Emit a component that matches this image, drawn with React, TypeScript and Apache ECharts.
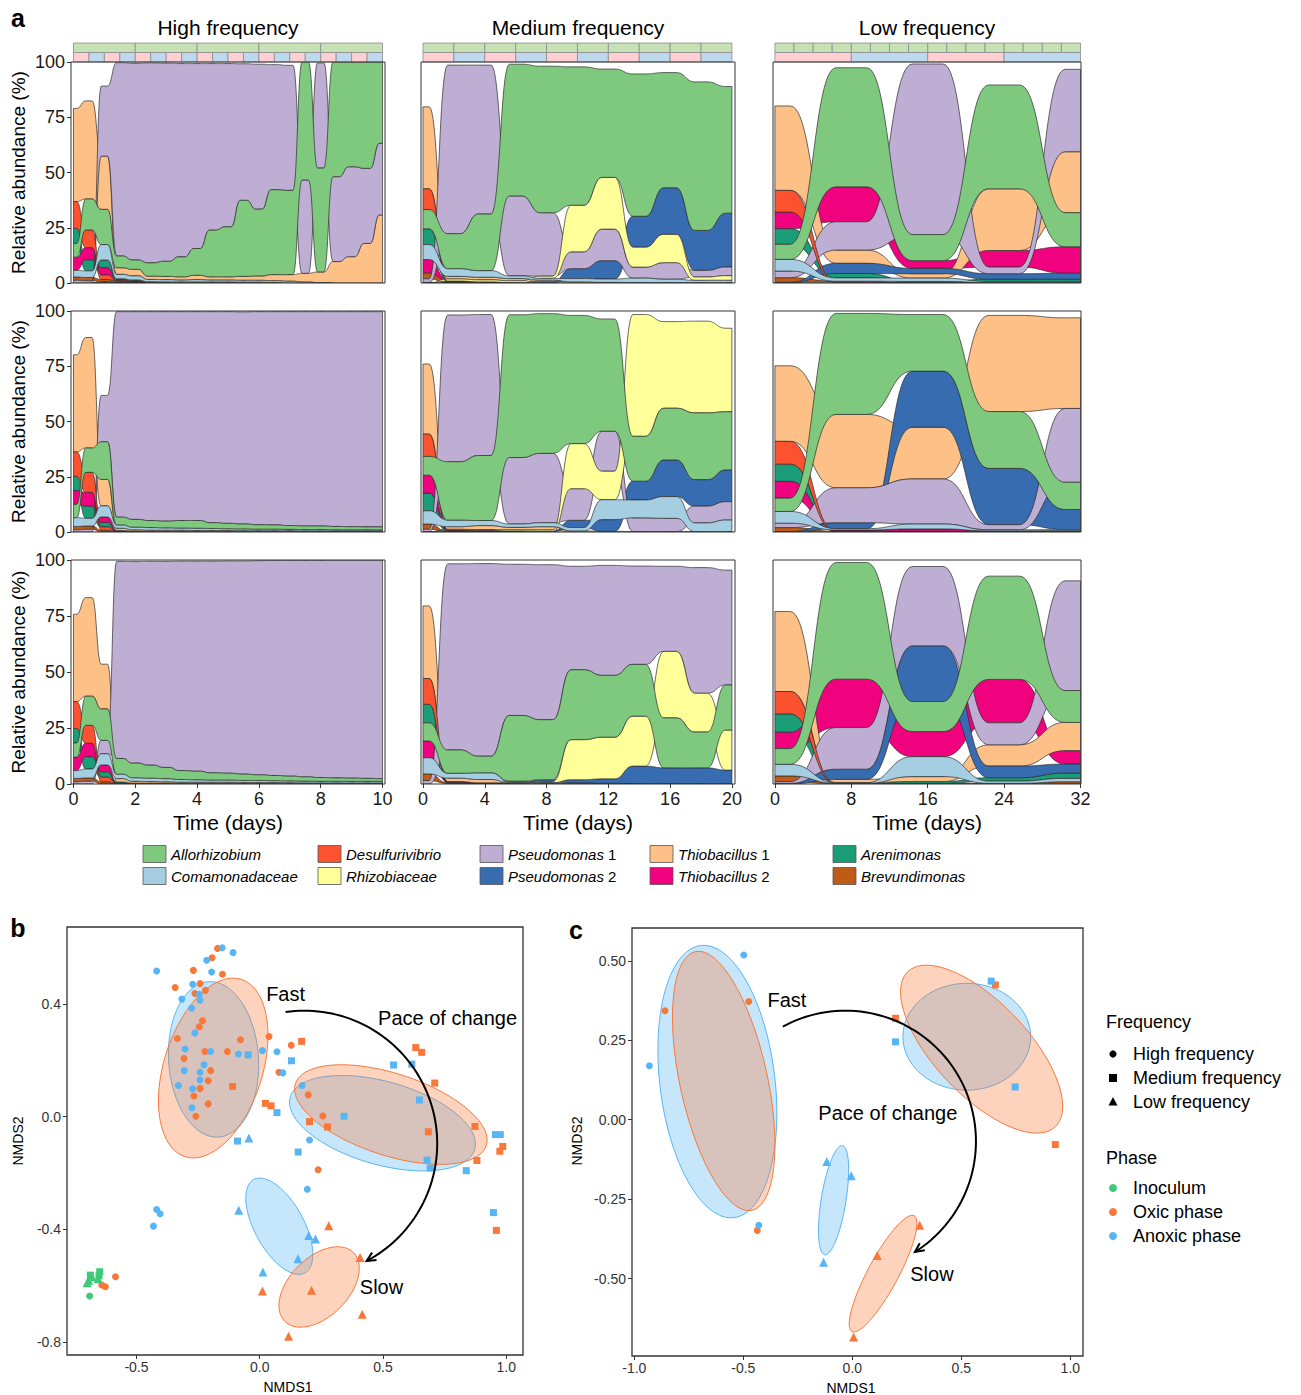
import React, { useEffect, useRef } from "react";
import * as echarts from "echarts";

const FONT = "'Liberation Sans', Arial, Helvetica, sans-serif";

// ---------------- Panel a: taxa ----------------
const TAXA = ["Allorhizobium", "Comamonadaceae", "Desulfurivibrio", "Rhizobiaceae", "Pseudomonas 1", "Pseudomonas 2", "Thiobacillus 1", "Thiobacillus 2", "Arenimonas", "Brevundimonas"];
const TAXA_COLORS = ["#7fc97f", "#a6cee3", "#fd5230", "#ffff99", "#beaed4", "#386cb0", "#fdc086", "#f0027f", "#1b9e77", "#bf5b17"];
const COLUMN_TITLES = ["High frequency", "Medium frequency", "Low frequency"];

const HF_TIMES = [0, 0.5, 1, 1.5, 2, 2.5, 3, 3.5, 4, 4.5, 5, 5.5, 6, 6.5, 7, 7.5, 8, 8.5, 9, 9.5, 10];
const MF_TIMES = [0, 2, 4, 6, 8, 10, 12, 14, 16, 18, 20];
const LF_TIMES = [0, 8, 16, 24, 32];
const HF_TICKS = [0, 2, 4, 6, 8, 10];
const MF_TICKS = [0, 4, 8, 12, 16, 20];
const LF_TICKS = [0, 8, 16, 24, 32];

// phase strips (day boundaries)
const HF_TOP_EDGES = [0, 2, 4, 6, 8, 10];
const HF_PHASE_EDGES = [0, 0.5, 1, 1.5, 2, 2.5, 3, 3.5, 4, 4.5, 5, 5.5, 6, 6.5, 7, 7.5, 8, 8.5, 9, 9.5, 10];
const MF_TOP_EDGES = [0, 2, 4, 6, 8, 10, 12, 14, 16, 18, 20];
const MF_PHASE_EDGES = [0, 2, 4, 6, 8, 10, 12, 14, 16, 18, 20];
const LF_TOP_EDGES = [0, 2, 4, 6, 8, 10, 12, 14, 16, 18, 20, 22, 24, 26, 28, 30, 32];
const LF_PHASE_EDGES = [0, 8, 16, 24, 32];

// relative abundances (%), rows in TAXA order
const HF_R1 = [
  [6.2, 14.0, 15.9, 5.3, 4.2, 6.0, 6.8, 9.0, 12.1, 21.1, 22.6, 34.4, 30.2, 38.4, 38.1, 53.4, 47.0, 51.9, 47.4, 48.1, 36.8],
  [3.0, 3.0, 7.0, 2.0, 1.8, 1.0, 1.0, 0.8, 1.0, 0.8, 0.8, 0.8, 0.8, 0.8, 0.8, 0.4, 0.2, 0, 0, 0, 0],
  [12.1, 8.0, 2.0, 0.3, 0.2, 0.1, 0, 0, 0, 0, 0, 0, 0, 0, 0, 0, 0, 0, 0, 0, 0],
  [0, 0, 0.3, 0.3, 0.3, 0.3, 0.3, 0.3, 0.3, 0.3, 0.3, 0.3, 0.3, 0.2, 0, 0, 0, 0, 0, 0, 0],
  [1.2, 1.0, 31.7, 87.5, 89.0, 90.5, 89.7, 87.5, 83.7, 75.4, 73.9, 61.8, 65.6, 56.6, 56.6, 42.2, 47.6, 38.4, 40.7, 34.0, 32.4],
  [0, 0, 0.3, 0.2, 0.2, 0, 0, 0, 0, 0, 0, 0, 0, 0, 0, 0, 0, 0, 0, 0, 0],
  [42.2, 44.4, 24.1, 3.0, 3.0, 1.5, 1.5, 1.5, 2.0, 1.5, 1.5, 1.8, 2.0, 2.8, 3.0, 4.0, 4.8, 9.7, 11.9, 17.9, 30.8],
  [6.0, 5.5, 3.3, 0.3, 0.2, 0, 0, 0, 0, 0, 0, 0, 0, 0, 0, 0, 0, 0, 0, 0, 0],
  [6.8, 5.0, 3.5, 0.5, 0.3, 0.2, 0.2, 0.2, 0.2, 0.2, 0.2, 0.1, 0.1, 0, 0, 0, 0, 0, 0, 0, 0],
  [1.5, 1.5, 1.0, 0.3, 0.2, 0, 0, 0, 0, 0, 0, 0, 0, 0, 0, 0, 0, 0, 0, 0, 0],
];
const HF_R2 = [
  [6.0, 11.0, 17.0, 3.5, 3.5, 3.2, 3.0, 3.4, 3.5, 2.6, 2.4, 2.2, 2.0, 1.9, 1.7, 1.6, 1.6, 1.5, 1.4, 1.3, 1.3],
  [4.0, 3.5, 5.0, 1.5, 1.2, 1.2, 1.1, 1.0, 1.0, 0.9, 0.8, 0.8, 0.7, 0.7, 0.6, 0.6, 0.6, 0.5, 0.5, 0.5, 0.5],
  [11.0, 9.0, 1.5, 0, 0, 0, 0, 0, 0, 0, 0, 0, 0, 0, 0, 0, 0, 0, 0, 0, 0],
  [0, 0, 0, 0, 0, 0, 0, 0, 0, 0, 0, 0, 0, 0, 0, 0, 0, 0, 0, 0, 0],
  [1.0, 1.2, 21.0, 93.0, 94.0, 94.5, 94.8, 94.5, 94.5, 95.5, 95.8, 96.0, 96.4, 96.5, 96.8, 97.0, 97.0, 97.2, 97.3, 97.4, 97.4],
  [0, 0, 0, 0, 0, 0, 0, 0, 0, 0, 0, 0, 0, 0, 0, 0, 0, 0, 0, 0, 0],
  [44.0, 50.0, 12.0, 1.0, 0.6, 0.5, 0.5, 0.5, 0.4, 0.4, 0.4, 0.4, 0.4, 0.4, 0.4, 0.3, 0.3, 0.3, 0.3, 0.3, 0.3],
  [6.2, 6.3, 2.5, 0.2, 0, 0, 0, 0, 0, 0, 0, 0, 0, 0, 0, 0, 0, 0, 0, 0, 0],
  [6.5, 5.5, 2.0, 0.5, 0.4, 0.3, 0.3, 0.3, 0.3, 0.3, 0.3, 0.2, 0.2, 0.2, 0.2, 0.2, 0.2, 0.2, 0.2, 0.2, 0.2],
  [1.5, 1.5, 0.8, 0, 0, 0, 0, 0, 0, 0, 0, 0, 0, 0, 0, 0, 0, 0, 0, 0, 0],
];
const HF_R3 = [
  [6.3, 13.0, 14.0, 7.0, 6.5, 5.8, 5.0, 4.0, 3.8, 3.2, 3.0, 2.8, 2.5, 2.3, 2.1, 1.9, 1.7, 1.5, 1.4, 1.3, 1.2],
  [3.5, 4.0, 5.0, 2.0, 1.6, 1.5, 1.4, 1.2, 1.1, 1.0, 1.0, 0.9, 0.9, 0.8, 0.8, 0.8, 0.7, 0.7, 0.7, 0.7, 0.7],
  [12.0, 8.0, 2.0, 0, 0, 0, 0, 0, 0, 0, 0, 0, 0, 0, 0, 0, 0, 0, 0, 0, 0],
  [0, 0, 0, 0, 0, 0, 0, 0, 0, 0, 0, 0, 0, 0, 0, 0, 0, 0, 0, 0, 0],
  [1.0, 1.2, 6.0, 88.0, 90.0, 91.0, 92.0, 93.5, 93.8, 94.5, 94.8, 95.2, 95.6, 96.0, 96.3, 96.6, 96.9, 97.2, 97.3, 97.4, 97.5],
  [0, 0, 0, 0, 0, 0, 0, 0, 0, 0, 0, 0, 0, 0, 0, 0, 0, 0, 0, 0, 0],
  [39.0, 44.0, 20.0, 1.5, 0.8, 0.7, 0.6, 0.5, 0.5, 0.5, 0.5, 0.4, 0.4, 0.4, 0.4, 0.3, 0.3, 0.3, 0.3, 0.3, 0.3],
  [6.0, 6.0, 3.0, 0.3, 0, 0, 0, 0, 0, 0, 0, 0, 0, 0, 0, 0, 0, 0, 0, 0, 0],
  [6.5, 5.5, 2.5, 0.6, 0.4, 0.4, 0.4, 0.3, 0.3, 0.3, 0.3, 0.3, 0.3, 0.3, 0.2, 0.2, 0.2, 0.2, 0.2, 0.2, 0.2],
  [1.5, 1.5, 1.0, 0, 0, 0, 0, 0, 0, 0, 0, 0, 0, 0, 0, 0, 0, 0, 0, 0, 0],
];
const MF_R1 = [
  [8.7, 15.8, 25.6, 59.6, 66.3, 62.6, 49.0, 64.4, 52.1, 67.2, 57.3],
  [6.8, 3.5, 3.0, 1.2, 0.8, 1.5, 1.5, 2.0, 1.5, 1.0, 1.0],
  [9.4, 0.2, 0.1, 0, 0, 0, 0, 0, 0, 0, 0],
  [0, 0.9, 0.9, 0.8, 1.0, 21.1, 23.4, 9.0, 12.8, 1.5, 2.1],
  [1.6, 76.3, 67.4, 36.2, 28.7, 7.6, 14.3, 5.0, 7.5, 3.0, 3.9],
  [0.3, 0, 0, 0.2, 0.5, 4.5, 8.3, 14.0, 21.1, 18.1, 24.4],
  [37.1, 1.2, 1.2, 1.0, 0.8, 0.5, 0.3, 0.2, 0.2, 0.2, 0.2],
  [6.0, 0.3, 0.2, 0, 0, 0, 0, 0, 0, 0, 0],
  [7.1, 0.2, 0.1, 0, 0, 0, 0, 0, 0, 0, 0],
  [2.7, 0.2, 0.1, 0, 0, 0, 0, 0, 0, 0, 0],
];
const MF_R2 = [
  [8.5, 26.4, 29.4, 64.6, 63.2, 58.0, 50.8, 20.3, 23.4, 30.2, 26.3],
  [6.0, 3.0, 2.3, 1.5, 1.8, 1.5, 9.0, 8.1, 9.8, 3.9, 5.2],
  [10.1, 0.2, 0.1, 0, 0, 0, 0, 0, 0, 0, 0],
  [0, 0.3, 0.3, 0.5, 0.6, 20.4, 12.9, 55.1, 39.2, 41.5, 37.8],
  [1.0, 66.4, 63.8, 30.1, 31.4, 14.3, 18.1, 6.2, 6.0, 7.6, 8.3],
  [0.2, 0, 0, 0.2, 0.3, 3.3, 5.3, 8.5, 16.6, 12.0, 14.4],
  [31.7, 1.2, 1.8, 1.2, 1.5, 0.5, 0.3, 0.2, 0.2, 0.2, 0.2],
  [8.1, 0.3, 0.5, 0.2, 0, 0, 0, 0, 0, 0, 0],
  [8.0, 0.2, 0.1, 0, 0, 0, 0, 0, 0, 0, 0],
  [2.4, 0.2, 0.1, 0, 0, 0, 0, 0, 0, 0, 0],
];
const MF_R3 = [
  [8.1, 10.4, 7.4, 29.3, 26.8, 31.2, 27.6, 23.1, 22.3, 16.0, 20.1],
  [7.2, 2.2, 3.0, 0.3, 0.3, 0.2, 0.1, 0, 0, 0, 0],
  [11.5, 0.2, 0.1, 0, 0, 0, 0, 0, 0, 0, 0],
  [0, 0, 0, 0.2, 0.5, 17.9, 18.6, 22.3, 29.7, 17.3, 17.9],
  [1.5, 83.1, 86.0, 67.5, 69.2, 46.2, 49.1, 43.9, 38.0, 56.1, 51.3],
  [0, 0, 0, 0.3, 0.8, 1.5, 2.0, 7.8, 7.0, 7.0, 6.0],
  [32.4, 1.5, 1.5, 0.5, 0.3, 0.2, 0.2, 0.2, 0.2, 0.2, 0.2],
  [7.5, 0.3, 0.2, 0, 0, 0, 0, 0, 0, 0, 0],
  [8.3, 0.3, 0.1, 0, 0, 0, 0, 0, 0, 0, 0],
  [3.0, 0.3, 0.1, 0, 0, 0, 0, 0, 0, 0, 0],
];
const LF_R1 = [
  [6.8, 53.9, 11.8, 47.0, 15.4],
  [5.3, 1.5, 1.5, 0.5, 0.5],
  [9.8, 0.3, 0, 0, 0],
  [0, 0, 0, 0, 0],
  [3.0, 12.8, 77.2, 3.0, 37.3],
  [0.3, 4.6, 2.4, 2.5, 2.7],
  [38.2, 6.0, 2.0, 27.9, 27.6],
  [7.5, 15.8, 3.5, 7.5, 12.0],
  [7.1, 2.0, 0.5, 1.0, 1.0],
  [2.1, 0.5, 0.2, 0.2, 0.2],
];
const LF_R2 = [
  [6.0, 45.7, 25.6, 25.7, 12.3],
  [5.3, 0.6, 2.2, 0.5, 0.5],
  [10.3, 0.1, 0, 0, 0],
  [0, 0, 0, 0, 0],
  [2.0, 15.8, 20.4, 2.3, 33.4],
  [0.2, 2.7, 25.4, 25.5, 9.1],
  [34.2, 33.2, 23.4, 43.5, 41.0],
  [7.6, 0.3, 1.0, 0.2, 0.2],
  [7.8, 0.3, 0.3, 0.2, 0.3],
  [1.8, 0.2, 0.1, 0.1, 0.1],
];
const LF_R3 = [
  [7.0, 52.1, 13.4, 46.1, 14.2],
  [5.2, 0.3, 8.9, 1.0, 1.5],
  [10.0, 0, 0, 0, 0],
  [0, 0, 0, 0, 0],
  [0.8, 18.6, 35.4, 9.8, 49.0],
  [0.3, 4.5, 24.9, 5.2, 4.0],
  [35.7, 1.5, 2.2, 9.5, 12.6],
  [7.3, 21.6, 11.2, 19.4, 6.0],
  [8.2, 0.2, 0.8, 1.5, 2.4],
  [2.5, 0.1, 0.3, 0.3, 1.0],
];

// ---------------- Panel b: NMDS points [NMDS1, NMDS2] ----------------
const B_HIGH_OXIC = [[-0.171, 0.597], [-0.193, 0.564], [-0.151, 0.505], [-0.269, 0.519], [-0.343, 0.458], [-0.242, 0.472], [-0.263, 0.437], [-0.220, 0.448], [-0.232, 0.340], [-0.245, 0.319], [-0.334, 0.277], [-0.078, 0.273], [0.038, 0.284], [-0.222, 0.231], [-0.131, 0.231], [-0.307, 0.206], [-0.199, 0.163], [-0.209, 0.127], [-0.242, 0.100], [-0.267, 0.073], [-0.209, 0.045], [-0.259, 0.001], [0.078, 0.157], [0.128, 0.253], [0.197, 0.077], [0.237, -0.189], [0.256, 0.002], [-0.585, -0.569], [-0.641, -0.598], [-0.626, -0.604]];
const B_HIGH_ANOXIC = [[-0.418, 0.517], [-0.316, 0.417], [-0.272, 0.470], [-0.276, 0.385], [-0.245, 0.434], [-0.242, 0.413], [-0.215, 0.555], [-0.195, 0.513], [-0.152, 0.599], [-0.108, 0.582], [-0.263, 0.297], [-0.303, 0.240], [-0.199, 0.231], [-0.226, 0.184], [-0.306, 0.163], [-0.242, 0.157], [-0.330, 0.110], [-0.242, 0.130], [-0.272, 0.099], [-0.275, 0.031], [-0.086, 0.222], [0.011, 0.234], [0.070, 0.230], [0.094, 0.155], [0.172, 0.110], [0.202, -0.083], [0.193, -0.258], [-0.418, -0.330], [-0.404, -0.345], [-0.431, -0.389]];
const B_MED_OXIC = [[0.170, 0.267], [-0.110, 0.107], [0.023, 0.047], [0.046, 0.038], [0.202, -0.018], [0.275, -0.037], [0.633, 0.245], [0.657, 0.228], [0.710, 0.119], [0.684, -0.054], [0.873, -0.035], [0.881, -0.156], [0.974, -0.123], [0.986, -0.106], [0.960, -0.404]];
const B_MED_ANOXIC = [[-0.047, 0.219], [0.129, 0.198], [0.070, 0.014], [-0.090, -0.087], [0.156, -0.126], [0.342, 0.001], [0.543, 0.183], [0.617, 0.186], [0.648, 0.059], [0.679, -0.155], [0.692, -0.183], [0.838, -0.192], [0.956, -0.064], [0.976, -0.064], [0.948, -0.341]];
const B_LOW_OXIC = [[0.011, -0.619], [0.210, -0.617], [0.117, -0.780], [0.280, -0.388], [0.407, -0.500], [0.416, -0.702]];
const B_LOW_ANOXIC = [[-0.044, -0.076], [-0.085, -0.333], [0.199, -0.422], [0.226, -0.435], [0.155, -0.505], [0.013, -0.552]];
const B_INOC_HIGH = [[-0.690, -0.637]];
const B_INOC_MED = [[-0.687, -0.563], [-0.649, -0.551], [-0.652, -0.566]];
const B_INOC_LOW = [[-0.694, -0.581], [-0.680, -0.569], [-0.700, -0.590], [-0.656, -0.576]];
// ellipses: [cx, cy, axis1x, axis1y, axis2x, axis2y, phase(0 oxic,1 anoxic)]
const B_ELLIPSES = [
  [-0.1872, 0.2030, -0.0202, 0.2759, 0.1820, 0.0103, 1],
  [0.498, -0.0236, 0.3744, -0.0922, -0.0457, -0.1421, 1],
  [0.0795, -0.3894, -0.1041, 0.1658, 0.0874, 0.0421, 1],
  [-0.1886, 0.1723, 0.1139, 0.3148, 0.1907, -0.0530, 0],
  [0.532, 0.0071, 0.3872, -0.1099, -0.0512, -0.1385, 0],
  [0.241, -0.605, 0.1393, 0.1220, 0.0844, -0.0740, 0],
];
// arrow: [cx, cy, rx, ry, startDeg, endDeg]
const B_ARROW = [0.180, -0.096, 0.540, 0.472, -98, 62];
const B_NOTES: [string, number, number][] = [["Fast", 0.105, 0.436], ["Pace of change", 0.762, 0.350], ["Slow", 0.494, -0.606]];

// ---------------- Panel c ----------------
const C_HIGH_OXIC = [[-0.859, 0.343], [-0.475, 0.372], [-0.436, -0.348]];
const C_HIGH_ANOXIC = [[-0.498, 0.518], [-0.931, 0.170], [-0.429, -0.332]];
const C_MED_OXIC = [[0.656, 0.424], [0.198, 0.319], [0.931, -0.078]];
const C_MED_ANOXIC = [[0.637, 0.436], [0.198, 0.245], [0.747, 0.103]];
const C_LOW_OXIC = [[0.309, -0.332], [0.114, -0.427], [0.006, -0.683]];
const C_LOW_ANOXIC = [[-0.117, -0.131], [-0.005, -0.176], [-0.132, -0.448]];
const C_ELLIPSES = [
  [-0.619, 0.120, -0.0763, 0.428, 0.262, 0.0219, 1],
  [0.525, 0.261, 0.293, 0, 0, 0.168, 1],
  [-0.086, -0.253, 0.0404, 0.1718, 0.0561, -0.0062, 1],
  [-0.590, 0.122, -0.1296, 0.4068, 0.196, 0.0292, 0],
  [0.593, 0.222, -0.338, 0.244, 0.155, 0.1008, 0],
  [0.141, -0.484, 0.1424, 0.1821, 0.0618, -0.0226, 0],
];
const C_ARROW = [-0.032, -0.068, 0.599, 0.411, -118.6, 57.8];
const C_NOTES: [string, number, number][] = [["Fast", -0.300, 0.375], ["Pace of change", 0.163, 0.022], ["Slow", 0.365, -0.485]];

const B_X_TICKS = [-0.5, 0, 0.5, 1.0];
const B_Y_TICKS = [-0.8, -0.4, 0, 0.4];
const C_X_TICKS = [-1.0, -0.5, 0, 0.5, 1.0];
const C_Y_TICKS = [-0.5, -0.25, 0, 0.25, 0.5];

// ---------------- styling / layout ----------------
const ORANGE = "#f8783a";
const BLUE = "#58b5f5";
const GREEN = "#3dca7a";
const PHASE_GREEN = "#c6e2b5";
const OXIC_PINK = "#ffd0d3";
const ANOXIC_BLUE = "#bed8ee";

const COL_LEFT = [71, 421, 773];
const COL_W = [314, 314, 308];
const ROW_TOP = [62, 311, 560];
const ROW_H = [221, 221, 224];
const COL_XRANGE = [[-0.08, 10.08], [-0.13, 20.2], [-0.2, 32.05]];

function alluvialSeries(times: number[], vals: number[][], gi: number) {
  const n = times.length;
  const K = vals.length;
  const lo = vals.map(() => new Array(n).fill(0));
  const hi = vals.map(() => new Array(n).fill(0));
  for (let i = 0; i < n; i++) {
    const ord = vals.map((_, k) => k).sort((a, b) => vals[a][i] - vals[b][i] || b - a);
    let acc = 0;
    for (const k of ord) {
      lo[k][i] = acc;
      acc += vals[k][i];
      hi[k][i] = acc;
    }
  }
  const w = (times[1] - times[0]) * 0.2;
  const SEG = 24;
  const order = vals.map((_, k) => K - 1 - k);
  return {
    type: "custom",
    xAxisIndex: gi,
    yAxisIndex: gi,
    clip: true,
    silent: true,
    z: 2,
    data: order.map((k) => [k, 0]),
    renderItem: (params: any, api: any) => {
      const k = order[params.dataIndex];
      const v = vals[k];
      const children: any[] = [];
      let i = 0;
      while (i < n - 1) {
        if (!(v[i] > 0 || v[i + 1] > 0)) {
          i++;
          continue;
        }
        let j = i;
        while (j < n - 1 && (v[j] > 0 || v[j + 1] > 0)) j++;
        const top: number[][] = [];
        const bot: number[][] = [];
        for (let m = i; m <= j; m++) {
          const xa = Math.max(times[m] - w, times[0]);
          const xb = Math.min(times[m] + w, times[n - 1]);
          if (v[m] > 0 || (m !== i && m !== j)) {
            top.push([xa, hi[k][m]], [xb, hi[k][m]]);
            bot.push([xa, lo[k][m]], [xb, lo[k][m]]);
          } else if (m === i) {
            top.push([xb, hi[k][m]]);
            bot.push([xb, lo[k][m]]);
          } else {
            top.push([xa, hi[k][m]]);
            bot.push([xa, lo[k][m]]);
          }
          if (m < j) {
            const x0 = times[m] + w;
            const x1 = times[m + 1] - w;
            const xm = (x0 + x1) / 2;
            for (let s = 1; s < SEG; s++) {
              const u = s / SEG;
              const bx = (1 - u) ** 3 * x0 + 3 * (1 - u) ** 2 * u * xm + 3 * (1 - u) * u * u * xm + u ** 3 * x1;
              const f = 3 * u * u - 2 * u ** 3;
              top.push([bx, hi[k][m] + (hi[k][m + 1] - hi[k][m]) * f]);
              bot.push([bx, lo[k][m] + (lo[k][m + 1] - lo[k][m]) * f]);
            }
          }
        }
        const pts = top.concat(bot.reverse()).map((p) => api.coord(p));
        children.push({
          type: "polygon",
          shape: { points: pts },
          style: { fill: TAXA_COLORS[k], stroke: "#2b2b2b", lineWidth: 0.7 },
        });
        i = j;
      }
      return { type: "group", children };
    },
  };
}

function phaseSeries(topEdges: number[], phaseEdges: number[], gi: number) {
  const cells: number[][] = [];
  for (let i = 0; i < topEdges.length - 1; i++) cells.push([topEdges[i], topEdges[i + 1], 1, 0]);
  for (let i = 0; i < phaseEdges.length - 1; i++) cells.push([phaseEdges[i], phaseEdges[i + 1], 0, i % 2 === 0 ? 1 : 2]);
  const fills = [PHASE_GREEN, OXIC_PINK, ANOXIC_BLUE];
  return {
    type: "custom",
    xAxisIndex: gi,
    yAxisIndex: gi,
    silent: true,
    data: cells,
    renderItem: (params: any, api: any) => {
      const c = cells[params.dataIndex];
      const p0 = api.coord([c[0], c[2] + 1]);
      const p1 = api.coord([c[1], c[2]]);
      return {
        type: "rect",
        shape: { x: p0[0], y: p0[1], width: p1[0] - p0[0], height: p1[1] - p0[1] },
        style: { fill: fills[c[3]], stroke: "#8c8c8c", lineWidth: 0.8 },
      };
    },
  };
}

function ellipseSeries(ells: number[][], gi: number) {
  return {
    type: "custom",
    xAxisIndex: gi,
    yAxisIndex: gi,
    silent: true,
    z: 3,
    data: ells.map((e) => [e[0], e[1]]),
    renderItem: (params: any, api: any) => {
      const e = ells[params.dataIndex];
      const pts: number[][] = [];
      for (let s = 0; s <= 90; s++) {
        const a = (s / 90) * Math.PI * 2;
        pts.push(api.coord([e[0] + e[2] * Math.cos(a) + e[4] * Math.sin(a), e[1] + e[3] * Math.cos(a) + e[5] * Math.sin(a)]));
      }
      const anoxic = e[6] === 1;
      return {
        type: "polygon",
        shape: { points: pts },
        style: {
          fill: anoxic ? "rgba(88,181,245,0.34)" : "rgba(248,120,58,0.33)",
          stroke: anoxic ? BLUE : ORANGE,
          lineWidth: 1,
        },
      };
    },
  };
}

function annotationSeries(arrow: number[], notes: [string, number, number][], gi: number) {
  return {
    type: "custom",
    xAxisIndex: gi,
    yAxisIndex: gi,
    silent: true,
    z: 6,
    data: [[arrow[0], arrow[1]]],
    renderItem: (params: any, api: any) => {
      const [cx, cy, rx, ry, a0, a1] = arrow;
      const pts: number[][] = [];
      const N = 80;
      for (let s = 0; s <= N; s++) {
        const t = ((a0 + ((a1 - a0) * s) / N) * Math.PI) / 180;
        pts.push(api.coord([cx + rx * Math.cos(t), cy - ry * Math.sin(t)]));
      }
      const end = pts[pts.length - 1];
      const prev = pts[pts.length - 4];
      const ang = Math.atan2(end[1] - prev[1], end[0] - prev[0]);
      const L = 10;
      const h1 = [end[0] - L * Math.cos(ang - 0.45), end[1] - L * Math.sin(ang - 0.45)];
      const h2 = [end[0] - L * Math.cos(ang + 0.45), end[1] - L * Math.sin(ang + 0.45)];
      const children: any[] = [
        { type: "polyline", shape: { points: pts }, style: { stroke: "#000", lineWidth: 2, fill: null } },
        { type: "polyline", shape: { points: [h1, end, h2] }, style: { stroke: "#000", lineWidth: 2, fill: null } },
      ];
      for (const [txt, x, y] of notes) {
        const p = api.coord([x, y]);
        children.push({
          type: "text",
          x: p[0],
          y: p[1],
          style: { text: txt, fontSize: 20, fontFamily: FONT, fill: "#000", align: "center", verticalAlign: "middle" },
        });
      }
      return { type: "group", children };
    },
  };
}

function scatter(data: number[][], gi: number, symbol: string, color: string) {
  const size = symbol === "triangle" ? 9 : 7;
  return {
    type: "scatter",
    xAxisIndex: gi,
    yAxisIndex: gi,
    data,
    symbol,
    symbolSize: size,
    silent: true,
    z: 5,
    itemStyle: { color, opacity: 1 },
  };
}

function buildOption() {
  const grid: any[] = [];
  const xAxis: any[] = [];
  const yAxis: any[] = [];
  const series: any[] = [];
  const panels = [
    [HF_R1, MF_R1, LF_R1],
    [HF_R2, MF_R2, LF_R2],
    [HF_R3, MF_R3, LF_R3],
  ];
  const colTimes = [HF_TIMES, MF_TIMES, LF_TIMES];
  const colTicks = [HF_TICKS, MF_TICKS, LF_TICKS];
  const textStyle = { fontFamily: FONT, color: "#1a1a1a" };
  const noLine = { show: false, onZero: false };

  for (let r = 0; r < 3; r++) {
    for (let c = 0; c < 3; c++) {
      const gi = grid.length;
      grid.push({ left: COL_LEFT[c], top: ROW_TOP[r], width: COL_W[c], height: ROW_H[r], show: true, borderColor: "#333", borderWidth: 1, backgroundColor: "transparent", z: 10 });
      xAxis.push({
        gridIndex: gi, type: "value", min: COL_XRANGE[c][0], max: COL_XRANGE[c][1], position: "bottom",
        axisLine: noLine, splitLine: { show: false },
        axisTick: { show: r === 2, customValues: colTicks[c], length: 4, lineStyle: { color: "#333" } },
        axisLabel: { show: r === 2, customValues: colTicks[c], fontSize: 18, margin: 6, ...textStyle },
      });
      yAxis.push({
        gridIndex: gi, type: "value", min: 0, max: 100, interval: 25, position: "left",
        axisLine: noLine, splitLine: { show: false },
        axisTick: { show: c === 0, length: 4, lineStyle: { color: "#333" } },
        axisLabel: { show: c === 0, fontSize: 18, margin: 6, ...textStyle },
      });
      series.push(alluvialSeries(colTimes[c], panels[r][c], gi));
    }
  }
  // phase strips
  const topEdges = [HF_TOP_EDGES, MF_TOP_EDGES, LF_TOP_EDGES];
  const phaseEdges = [HF_PHASE_EDGES, MF_PHASE_EDGES, LF_PHASE_EDGES];
  for (let c = 0; c < 3; c++) {
    const gi = grid.length;
    grid.push({ left: COL_LEFT[c], top: 43, width: COL_W[c], height: 19, show: false });
    xAxis.push({ gridIndex: gi, type: "value", min: COL_XRANGE[c][0], max: COL_XRANGE[c][1], show: false });
    yAxis.push({ gridIndex: gi, type: "value", min: 0, max: 2, show: false });
    series.push(phaseSeries(topEdges[c], phaseEdges[c], gi));
  }

  // panel b
  const gb = grid.length;
  grid.push({ left: 67, top: 927, width: 456, height: 428, show: true, borderColor: "#333", borderWidth: 1.3, backgroundColor: "transparent", z: 10 });
  xAxis.push({
    gridIndex: gb, type: "value", min: -0.7817, max: 1.068, position: "bottom",
    axisLine: noLine, splitLine: { show: false },
    axisTick: { show: true, customValues: B_X_TICKS, length: 4, lineStyle: { color: "#333" } },
    axisLabel: { show: true, customValues: B_X_TICKS, fontSize: 14, margin: 5, formatter: (v: number) => v.toFixed(1), fontFamily: FONT, color: "#333" },
  });
  yAxis.push({
    gridIndex: gb, type: "value", min: -0.8465, max: 0.673, position: "left",
    axisLine: noLine, splitLine: { show: false },
    axisTick: { show: true, customValues: B_Y_TICKS, length: 4, lineStyle: { color: "#333" } },
    axisLabel: { show: true, customValues: B_Y_TICKS, fontSize: 14, margin: 6, formatter: (v: number) => v.toFixed(1), fontFamily: FONT, color: "#333" },
  });
  series.push(ellipseSeries(B_ELLIPSES, gb));
  series.push(scatter(B_HIGH_OXIC, gb, "circle", ORANGE));
  series.push(scatter(B_HIGH_ANOXIC, gb, "circle", BLUE));
  series.push(scatter(B_MED_OXIC, gb, "rect", ORANGE));
  series.push(scatter(B_MED_ANOXIC, gb, "rect", BLUE));
  series.push(scatter(B_LOW_OXIC, gb, "triangle", ORANGE));
  series.push(scatter(B_LOW_ANOXIC, gb, "triangle", BLUE));
  series.push(scatter(B_INOC_HIGH, gb, "circle", GREEN));
  series.push(scatter(B_INOC_MED, gb, "rect", GREEN));
  series.push(scatter(B_INOC_LOW, gb, "triangle", GREEN));
  series.push(annotationSeries(B_ARROW, B_NOTES, gb));

  // panel c
  const gc = grid.length;
  grid.push({ left: 632, top: 928, width: 451, height: 428, show: true, borderColor: "#333", borderWidth: 1.3, backgroundColor: "transparent", z: 10 });
  xAxis.push({
    gridIndex: gc, type: "value", min: -1.0106, max: 1.058, position: "bottom",
    axisLine: noLine, splitLine: { show: false },
    axisTick: { show: true, customValues: C_X_TICKS, length: 4, lineStyle: { color: "#333" } },
    axisLabel: { show: true, customValues: C_X_TICKS, fontSize: 14, margin: 5, formatter: (v: number) => v.toFixed(1), fontFamily: FONT, color: "#333" },
  });
  yAxis.push({
    gridIndex: gc, type: "value", min: -0.743, max: 0.603, position: "left",
    axisLine: noLine, splitLine: { show: false },
    axisTick: { show: true, customValues: C_Y_TICKS, length: 4, lineStyle: { color: "#333" } },
    axisLabel: { show: true, customValues: C_Y_TICKS, fontSize: 14, margin: 6, formatter: (v: number) => v.toFixed(2), fontFamily: FONT, color: "#333" },
  });
  series.push(ellipseSeries(C_ELLIPSES, gc));
  series.push(scatter(C_HIGH_OXIC, gc, "circle", ORANGE));
  series.push(scatter(C_HIGH_ANOXIC, gc, "circle", BLUE));
  series.push(scatter(C_MED_OXIC, gc, "rect", ORANGE));
  series.push(scatter(C_MED_ANOXIC, gc, "rect", BLUE));
  series.push(scatter(C_LOW_OXIC, gc, "triangle", ORANGE));
  series.push(scatter(C_LOW_ANOXIC, gc, "triangle", BLUE));
  series.push(annotationSeries(C_ARROW, C_NOTES, gc));

  // graphics
  const g: any[] = [];
  const txt = (x: number, y: number, text: string, size: number, extra: any = {}, elExtra: any = {}) => ({
    type: "text", x, y, z: 100, silent: true, ...elExtra,
    style: { text, fontSize: size, fontFamily: FONT, fill: "#000", align: "center", verticalAlign: "middle", textAlign: "center", textVerticalAlign: "middle", ...extra },
  });
  g.push(txt(18, 18, "a", 25, { fontWeight: "bold" }));
  g.push(txt(18, 928, "b", 25, { fontWeight: "bold" }));
  g.push(txt(576, 930, "c", 25, { fontWeight: "bold" }));
  for (let c = 0; c < 3; c++) {
    const cx = COL_LEFT[c] + COL_W[c] / 2;
    g.push(txt(cx, 27, COLUMN_TITLES[c], 21));
    g.push(txt(cx, 822, "Time (days)", 21));
  }
  for (let r = 0; r < 3; r++) {
    g.push(txt(18, ROW_TOP[r] + ROW_H[r] / 2, "Relative abundance (%)", 19, {}, { rotation: Math.PI / 2 }));
  }
  // taxa legend
  const LEG_X = [143, 318, 480, 650, 833];
  const LEG_Y = [854, 876];
  TAXA.forEach((name, k) => {
    const x = LEG_X[Math.floor(k / 2)];
    const y = LEG_Y[k % 2];
    g.push({ type: "rect", z: 100, silent: true, shape: { x, y: y - 8.5, width: 23, height: 17 }, style: { fill: TAXA_COLORS[k], stroke: "#555", lineWidth: 0.8 } });
    const m = name.match(/^(.*) (\d)$/);
    const text = m ? `{i|${m[1]}} {n|${m[2]}}` : `{i|${name}}`;
    g.push({
      type: "text", x: x + 28, y, z: 100, silent: true,
      style: {
        text, fill: "#000", fontSize: 15, fontFamily: FONT, align: "left", verticalAlign: "middle", textAlign: "left", textVerticalAlign: "middle",
        rich: { i: { fontStyle: "italic", fontSize: 15, fontFamily: FONT, fill: "#000" }, n: { fontSize: 15, fontFamily: FONT, fill: "#000" } },
      },
    });
  });
  // NMDS axis titles
  g.push(txt(288, 1387, "NMDS1", 14));
  g.push(txt(851, 1388, "NMDS1", 14));
  g.push(txt(18, 1141, "NMDS2", 14, {}, { rotation: Math.PI / 2 }));
  g.push(txt(577, 1141, "NMDS2", 14, {}, { rotation: Math.PI / 2 }));
  // right legend
  const left = (x: number, y: number, text: string, size: number) => txt(x, y, text, size, { align: "left", textAlign: "left" });
  g.push(left(1106, 1022, "Frequency", 18));
  const fy = [1054, 1078, 1102];
  ["High frequency", "Medium frequency", "Low frequency"].forEach((t, i) => g.push(left(1133, fy[i], t, 18)));
  g.push({ type: "circle", z: 100, silent: true, shape: { cx: 1113, cy: fy[0], r: 3.6 }, style: { fill: "#000" } });
  g.push({ type: "rect", z: 100, silent: true, shape: { x: 1109, y: fy[1] - 4, width: 8, height: 8 }, style: { fill: "#000" } });
  g.push({ type: "polygon", z: 100, silent: true, shape: { points: [[1113, fy[2] - 5], [1117.5, fy[2] + 3.5], [1108.5, fy[2] + 3.5]] }, style: { fill: "#000" } });
  g.push(left(1106, 1158, "Phase", 18));
  const py = [1188, 1212, 1236];
  const pc = [GREEN, ORANGE, BLUE];
  ["Inoculum", "Oxic phase", "Anoxic phase"].forEach((t, i) => {
    g.push(left(1133, py[i], t, 18));
    g.push({ type: "circle", z: 100, silent: true, shape: { cx: 1113, cy: py[i], r: 4 }, style: { fill: pc[i] } });
  });

  return {
    animation: false,
    backgroundColor: "#ffffff",
    textStyle: { fontFamily: FONT },
    grid,
    xAxis,
    yAxis,
    series,
    graphic: { elements: g },
  };
}

export default function App() {
  const ref = useRef<HTMLDivElement>(null);
  useEffect(() => {
    if (!ref.current) return;
    const chart = echarts.init(ref.current, null, { renderer: "svg", width: 1301, height: 1395 });
    chart.setOption(buildOption() as any);
    return () => chart.dispose();
  }, []);
  return <div ref={ref} style={{ position: "absolute", left: 0, top: 0, width: 1301, height: 1395, background: "#fff" }} />;
}
